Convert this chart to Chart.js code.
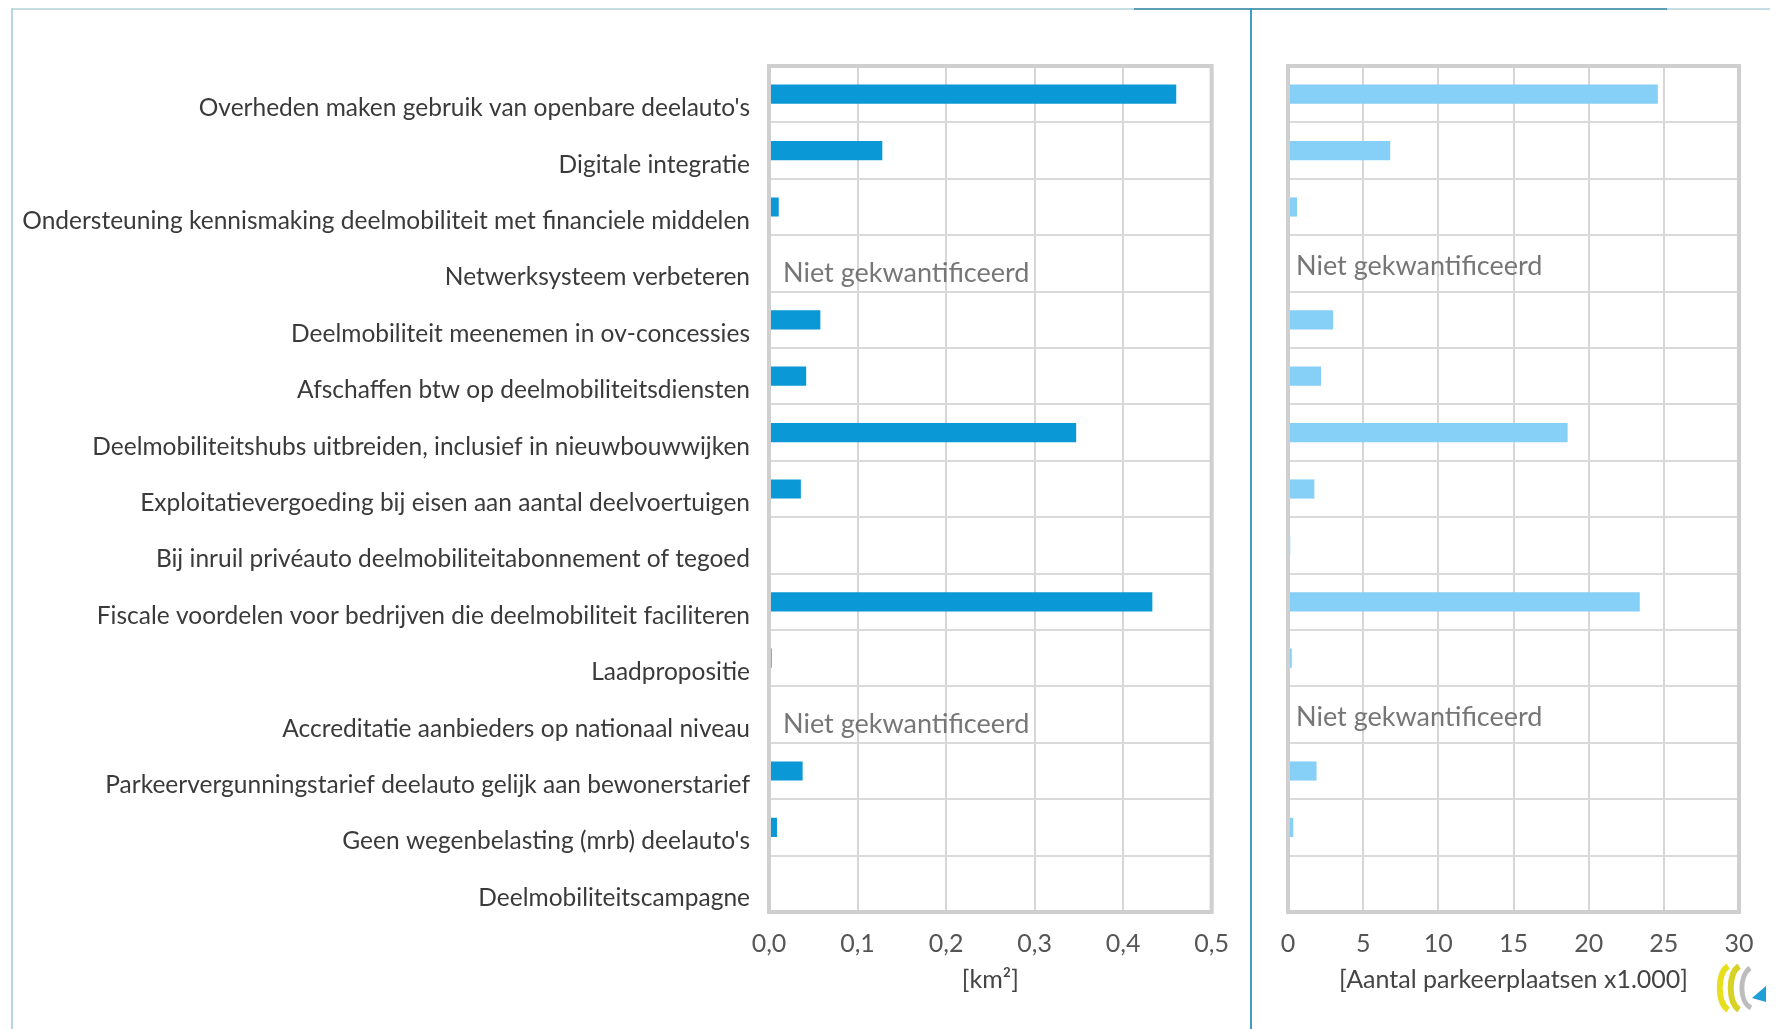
<!DOCTYPE html>
<html><head><meta charset="utf-8">
<script src="https://cdn.jsdelivr.net/npm/chart.js@4.4.1/dist/chart.umd.min.js"></script>
<style>
html,body{margin:0;padding:0;background:#fff;}
#wrap{position:relative;width:1778px;height:1029px;overflow:hidden;background:#fff;}
.c{position:absolute;top:0;height:1029px;}
#c1{left:0;width:1246px;}
#c2{left:1260px;width:518px;}
.ln{position:absolute;}
</style></head><body>
<div id="wrap">
 <div class="ln" style="left:11px;top:8px;width:1759px;height:2px;background:#c6dde3"></div>
 <div class="ln" style="left:1134px;top:8px;width:533px;height:2px;background:#5a9fb6"></div>
 <div class="ln" style="left:11px;top:8px;width:2px;height:1021px;background:#b9d7df"></div>
 <div class="c" id="c1"><canvas id="chart1"></canvas></div>
 <div class="c" id="c2"><canvas id="chart2"></canvas></div>
 <div class="ln" style="left:1250px;top:8px;width:2px;height:1021px;background:#3f9cc3"></div>
 <svg style="position:absolute;left:1714px;top:960px" width="56" height="56" viewBox="0 0 56 56">
  <path d="M14 6 C3 14 3 42 14 50" fill="none" stroke="#e6df1e" stroke-width="6"/>
  <path d="M25 6 C14 14 14 42 25 50" fill="none" stroke="#d9d226" stroke-width="6"/>
  <path d="M36 8 C25 16 25 42 37 48" fill="none" stroke="#bdbdbd" stroke-width="5"/>
  <polygon points="38,38 52,26 52,42" fill="#1e9fd8"/>
 </svg>
</div>
<script>
const categories = [
  "Overheden maken gebruik van openbare deelauto's",
  "Digitale integratie",
  "Ondersteuning kennismaking deelmobiliteit met financiele middelen",
  "Netwerksysteem verbeteren",
  "Deelmobiliteit meenemen in ov-concessies",
  "Afschaffen btw op deelmobiliteitsdiensten",
  "Deelmobiliteitshubs uitbreiden, inclusief in nieuwbouwwijken",
  "Exploitatievergoeding bij eisen aan aantal deelvoertuigen",
  "Bij inruil privéauto deelmobiliteitabonnement of tegoed",
  "Fiscale voordelen voor bedrijven die deelmobiliteit faciliteren",
  "Laadpropositie",
  "Accreditatie aanbieders op nationaal niveau",
  "Parkeervergunningstarief deelauto gelijk aan bewonerstarief",
  "Geen wegenbelasting (mrb) deelauto's",
  "Deelmobiliteitscampagne"
];
// null = "Niet gekwantificeerd"
const areaKm2 = [0.460, 0.128, 0.011, null, 0.058, 0.042, 0.347, 0.036, 0.002, 0.433, 0.003, null, 0.038, 0.009, 0];
const parkingX1000 = [24.6, 6.8, 0.6, null, 3.0, 2.2, 18.6, 1.75, 0.15, 23.4, 0.25, null, 1.9, 0.35, 0];
const areaTicks = [0, 0.1, 0.2, 0.3, 0.4, 0.5];
const parkingTicks = [0, 5, 10, 15, 20, 25, 30];
const areaTitle = "[km\u00B2]";
const parkingTitle = "[Aantal parkeerplaatsen x1.000]";
const notQuantText = "Niet gekwantificeerd";

const FONT = "Lato, 'Open Sans', sans-serif";

const notQuantPlugin = {
  id: 'nq',
  afterDatasetsDraw(chart, args, opts) {
    const data = chart.data.datasets[0].data;
    const y = chart.scales.y, ctx = chart.ctx;
    ctx.save();
    ctx.font = "27px " + FONT;
    ctx.fillStyle = '#767676';
    ctx.textBaseline = 'middle';
    ctx.textAlign = 'left';
    data.forEach((v, i) => {
      if (v === null) ctx.fillText(notQuantText, chart.chartArea.left + opts.dx, y.getPixelForValue(i) + opts.dy);
    });
    ctx.restore();
  }
};
const framePlugin = {
  id: 'frame',
  afterDatasetsDraw(chart) {
    const {left, top, right, bottom} = chart.chartArea, ctx = chart.ctx;
    ctx.save();
    ctx.strokeStyle = '#cfcfcf';
    ctx.lineWidth = 4;
    ctx.strokeRect(left, top, right - left, bottom - top);
    ctx.restore();
  }
};

function makeChart(id, values, color, ticks, title, fmt, showLabels, pad, nq) {
  const tmin = ticks[0], tmax = ticks[ticks.length - 1], step = ticks[1] - ticks[0];
  return new Chart(document.getElementById(id), {
    type: 'bar',
    data: { labels: categories, datasets: [{ data: values, backgroundColor: color, borderWidth: 0,
      barPercentage: 0.34, categoryPercentage: 1 }] },
    options: {
      indexAxis: 'y',
      responsive: true, maintainAspectRatio: false, animation: false,
      layout: { padding: pad },
      plugins: { legend: { display: false }, tooltip: { enabled: false }, nq: nq },
      scales: {
        x: {
          min: tmin, max: tmax,
          afterBuildTicks(s) { s.ticks = ticks.map(v => ({ value: v })); },
          afterFit(s) { s.height = 117; },
          border: { display: false },
          grid: { color: '#d6d6d6', lineWidth: 2, drawTicks: false },
          ticks: { stepSize: step, padding: 17, color: '#555', font: { family: FONT, size: 25 },
            callback: v => fmt(v) },
          title: { display: true, text: title, color: '#444', font: { family: FONT, size: 25 },
            padding: { top: 0, bottom: 34 } }
        },
        y: {
          afterFit(s) { s.width = showLabels ? 769 : 0; },
          border: { display: false },
          grid: { color: '#dadada', lineWidth: 2, drawTicks: false, offset: true },
          ticks: { display: showLabels, padding: 19, labelOffset: 14, color: '#3a3a3a',
            font: { family: FONT, size: 24.5 } }
        }
      }
    },
    plugins: [notQuantPlugin, framePlugin]
  });
}

makeChart('chart1', areaKm2, '#0a98d6', areaTicks, areaTitle,
  v => v.toFixed(1).replace('.', ','), true, { top: 66, right: 34, left: 0, bottom: 0 }, { dx: 14, dy: 10 });
makeChart('chart2', parkingX1000, '#86cff7', parkingTicks, parkingTitle,
  v => String(v), false, { top: 66, right: 39, left: 28, bottom: 0 }, { dx: 8, dy: 3 });
</script>
</body></html>
